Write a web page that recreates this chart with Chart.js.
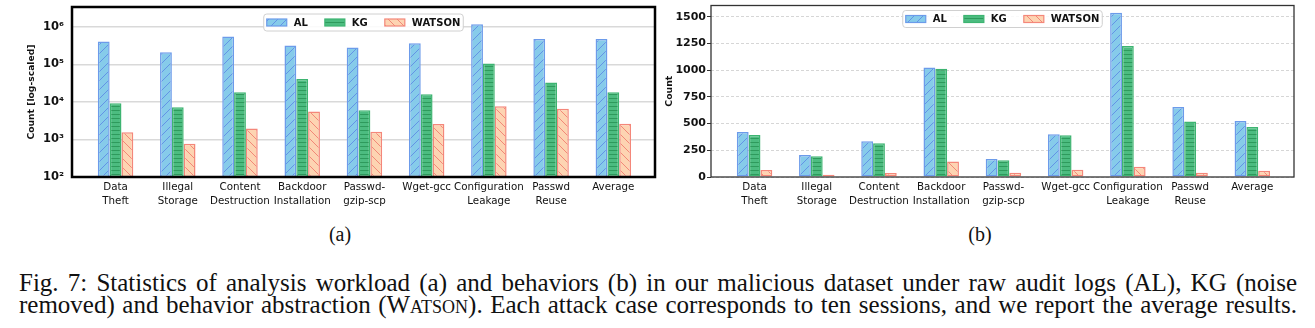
<!DOCTYPE html>
<html>
<head>
<meta charset="utf-8">
<script src="https://cdn.jsdelivr.net/npm/chart.js@4.4.0/dist/chart.umd.min.js"></script>
<style>
  html, body { margin: 0; padding: 0; background: #fff; }
  body { width: 1315px; height: 328px; position: relative; overflow: hidden; }
  canvas { position: absolute; top: 0; }
  #chartA { left: 0; }
  #chartB { left: 660px; }
  .sub { position: absolute; top: 224px; width: 100px; text-align: center; font: 20px/20px 'Liberation Serif', serif; color: #111; }
  .cap { position: absolute; left: 19px; width: 1278px; font: 25px/21.7px 'Liberation Serif', serif; color: #111;
         text-align: justify; text-align-last: justify; }
  .sc { font-variant: small-caps; }
</style>
</head>
<body>
<canvas id="chartA" width="660" height="215"></canvas>
<canvas id="chartB" width="655" height="215"></canvas>
<div class="sub" style="left:290px">(a)</div>
<div class="sub" style="left:930px">(b)</div>
<div class="cap" style="top:272px">Fig. 7: Statistics of analysis workload (a) and behaviors (b) in our malicious dataset under raw audit logs (AL), KG (noise</div>
<div class="cap" style="top:294px">removed) and behavior abstraction (W<span class="sc">atson</span>). Each attack case corresponds to ten sessions, and we report the average results.</div>
<script>
const categories = [['Data', 'Theft'], ['Illegal', 'Storage'], ['Content', 'Destruction'], ['Backdoor', 'Installation'],
  ['Passwd-', 'gzip-scp'], 'Wget-gcc', ['Configuration', 'Leakage'], ['Passwd', 'Reuse'], 'Average'];
const seriesNames = ['AL', 'KG', 'WATSON'];

// (a) analysis workload, log scale
const workloadAL = [410000, 210000, 560000, 320000, 285000, 365000, 1180000, 480000, 480000];
const workloadKG = [9200, 7200, 18200, 41000, 6000, 16000, 106000, 33000, 18200];
const workloadWatson = [1550, 770, 1970, 5600, 1600, 2570, 7650, 6600, 2630];
const logTicks = [1e2, 1e3, 1e4, 1e5, 1e6];

// (b) behaviors
const behaviorAL = [422, 206, 334, 1025, 169, 400, 1537, 656, 525];
const behaviorKG = [394, 194, 316, 1012, 156, 390, 1225, 519, 469];
const behaviorWatson = [66, 22, 37, 144, 40, 69, 97, 40, 59];
const countTicks = [0, 250, 500, 750, 1000, 1250, 1500];

Chart.defaults.color = '#111';
Chart.defaults.font.family = "'DejaVu Sans', sans-serif";

function hatch(fill, line, kind) {
  const s = kind === '-' ? 4 : 9;
  const c = document.createElement('canvas');
  c.width = c.height = s;
  const g = c.getContext('2d');
  g.fillStyle = fill;
  g.fillRect(0, 0, s, s);
  g.strokeStyle = line;
  g.lineWidth = 1;
  g.beginPath();
  if (kind === '/') {
    g.moveTo(0, s); g.lineTo(s, 0);
    g.moveTo(-1, 1); g.lineTo(1, -1);
    g.moveTo(s - 1, s + 1); g.lineTo(s + 1, s - 1);
  } else if (kind === '\\') {
    g.moveTo(0, 0); g.lineTo(s, s);
    g.moveTo(-1, s - 1); g.lineTo(1, s + 1);
    g.moveTo(s - 1, -1); g.lineTo(s + 1, 1);
  } else {
    g.moveTo(0, 2.5); g.lineTo(s, 2.5);
  }
  g.stroke();
  return g.createPattern(c, 'repeat');
}

const styles = [
  { bg: () => hatch('#86CBEA', '#6393E6', '/'), edge: '#6C9BEA' },
  { bg: () => hatch('#4CBC80', '#2E9A5C', '-'), edge: '#3DB471' },
  { bg: () => hatch('#FDD4B2', '#F28878', '\\'), edge: '#F4877A' }
];

function makeSets(lists) {
  return lists.map((vals, k) => ({
    label: seriesNames[k],
    data: vals.map((v, i) => ({ x: i, y: v })),
    backgroundColor: styles[k].bg(),
    borderColor: styles[k].edge,
    borderWidth: 1.5,
    borderSkipped: false,
    categoryPercentage: 0.57,
    barPercentage: 1.0
  }));
}

const frame = {
  id: 'frame',
  afterDraw(chart, args, opts) {
    const { ctx, chartArea: a } = chart;
    ctx.save();
    ctx.strokeStyle = opts.color;
    ctx.lineWidth = opts.width;
    ctx.strokeRect(a.left, a.top, a.right - a.left, a.bottom - a.top);
    ctx.restore();
  }
};

const hatchLegend = {
  id: 'hatchLegend',
  afterDraw(chart, args, opts) {
    const { ctx, chartArea: a } = chart;
    ctx.save();
    ctx.font = "bold 10px 'DejaVu Sans'";
    const items = chart.data.datasets.map(ds => ({ ds, w: ctx.measureText(ds.label).width }));
    const patch = 20, gapText = 7, gapItem = 17, pad = 3, h = 17;
    const total = pad * 2 + items.reduce((s, it) => s + patch + gapText + it.w, 0) + gapItem * (items.length - 1);
    const x = (a.left + a.right) / 2 - total / 2;
    const y = a.top + opts.top;
    ctx.fillStyle = 'rgba(255,255,255,0.85)';
    ctx.strokeStyle = '#d0d0d0';
    ctx.lineWidth = 1;
    ctx.beginPath();
    ctx.roundRect(x, y, total, h, 3);
    ctx.fill();
    ctx.stroke();
    let cx = x + pad;
    items.forEach(it => {
      ctx.fillStyle = it.ds.backgroundColor;
      ctx.fillRect(cx, y + h / 2 - 3.5, patch, 7);
      ctx.strokeStyle = it.ds.borderColor;
      ctx.lineWidth = 1.2;
      ctx.strokeRect(cx, y + h / 2 - 3.5, patch, 7);
      ctx.fillStyle = '#111';
      ctx.textBaseline = 'middle';
      ctx.fillText(it.ds.label, cx + patch + gapText, y + h / 2 + 0.5);
      cx += patch + gapText + it.w + gapItem;
    });
    ctx.restore();
  }
};

const sup = '⁰¹²³⁴⁵⁶⁷⁸⁹';

function xAxis() {
  return {
    type: 'linear', min: -0.7, max: 8.67, offset: false,
    afterBuildTicks: s => { s.ticks = categories.map((c, i) => ({ value: i })); },
    afterFit: s => { s.height = 38; s.paddingLeft = 0; s.paddingRight = 0; },
    ticks: { autoSkip: false, maxRotation: 0, minRotation: 0, padding: 4,
      font: { size: 10.3, lineHeight: 1.3 }, callback: v => categories[v] },
    grid: { display: false, drawTicks: false, offset: false },
    border: { display: false }
  };
}

new Chart(document.getElementById('chartA'), {
  type: 'bar',
  data: { datasets: makeSets([workloadAL, workloadKG, workloadWatson]) },
  options: {
    responsive: false,
    animation: false,
    layout: { padding: { left: 24, top: 7, right: 5, bottom: 0 } },
    scales: {
      x: xAxis(),
      y: {
        type: 'logarithmic', min: 100, max: 3.4e6, z: 1,
        afterBuildTicks: s => { s.ticks = logTicks.map(v => ({ value: v })); },
        afterFit: s => { s.width = 48; s.paddingTop = 0; s.paddingBottom = 0; },
        ticks: { padding: 8, font: { size: 11.5, weight: 'bold' },
          callback: v => '10' + sup[Math.round(Math.log10(v))] },
        grid: { color: 'rgba(0,0,0,0.15)', lineWidth: 1.5, drawTicks: false },
        border: { display: false },
        title: { display: true, text: 'Count [log-scaled]', font: { size: 9.2, weight: 'bold' }, padding: { top: 2, bottom: 0 } }
      }
    },
    plugins: {
      legend: { display: false },
      tooltip: { enabled: false },
      frame: { color: '#000', width: 2.5 },
      hatchLegend: { top: 7 }
    }
  },
  plugins: [frame, hatchLegend]
});

new Chart(document.getElementById('chartB'), {
  type: 'bar',
  data: { datasets: makeSets([behaviorAL, behaviorKG, behaviorWatson]) },
  options: {
    responsive: false,
    animation: false,
    layout: { padding: { left: 4, top: 5.5, right: 21, bottom: 0 } },
    scales: {
      x: xAxis(),
      y: {
        min: 0, max: 1605, z: 1,
        afterBuildTicks: s => { s.ticks = countTicks.map(v => ({ value: v })); },
        afterFit: s => { s.width = 47; s.paddingTop = 0; s.paddingBottom = 0; },
        ticks: { padding: 1, font: { size: 11, weight: 'bold' }, callback: v => String(v) },
        grid: { color: '#d6d6d6', lineWidth: 1, drawTicks: true, tickLength: 4, tickColor: '#333', tickWidth: 1 },
        border: { display: false, dash: [3, 2] },
        title: { display: true, text: 'Count', font: { size: 9.3, weight: 'bold' }, padding: { top: 0, bottom: 0 } }
      }
    },
    plugins: {
      legend: { display: false },
      tooltip: { enabled: false },
      frame: { color: '#333', width: 1.3 },
      hatchLegend: { top: 5 }
    }
  },
  plugins: [frame, hatchLegend]
});
</script>
</body>
</html>
